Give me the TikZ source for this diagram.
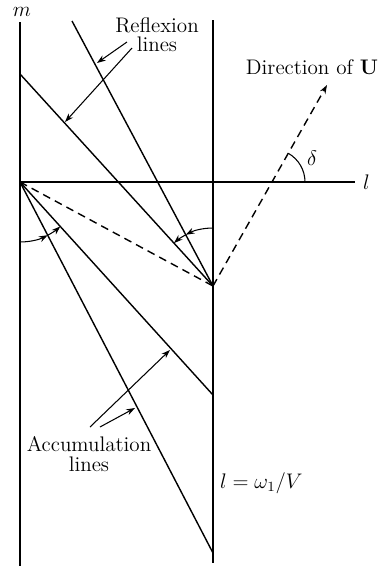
\documentclass[tikz,border=0pt]{standalone}
\usepackage{amsmath,amssymb}
\usepackage{tikz}
\usetikzlibrary{arrows.meta}

\begin{document}
\begin{tikzpicture}[
      x=0.02cm,y=0.02cm,
      >={Stealth[length=5pt,width=3.5pt]},
      edge/.style={line width=0.8pt},
      dashline/.style={line width=0.8pt,dash pattern=on 4.5pt off 3pt},
      pointer/.style={->,line width=0.6pt},
      anglearc/.style={->,line width=0.6pt},
      lbl/.style={font=\fontsize{12}{13}\selectfont,align=center,inner sep=1pt}
    ]
    \useasboundingbox (0,0) rectangle (379,566);
    % frame of the strip
    \coordinate (O) at (20,384);
    \coordinate (P) at (213,280);
    \coordinate (lefttop) at (20,544);
    \coordinate (leftbot) at (20,0);
    \coordinate (righttop) at (213,546);
    \coordinate (rightbot) at (213,3);
    \coordinate (lend) at (355,384);
    \draw[edge] (lefttop) -- (leftbot);
    \draw[edge] (righttop) -- (rightbot);
    \draw[edge] (O) -- (lend);
    \node[lbl] (mlabel) at (22,554) {$m$};
    \node[lbl,right=0pt] (llabel) at (361,384) {$l$};
    % reflexion and accumulation lines
    \coordinate (refla) at (20,492);
    \coordinate (reflb) at (72,545);
    \coordinate (accua) at (213,171);
    \coordinate (accub) at (213,13);
    \draw[edge] (refla) -- (P);
    \draw[edge] (reflb) -- (P);
    \draw[edge] (O) -- (accua);
    \draw[edge] (O) -- (accub);
    % dashed lines
    \coordinate (utip) at (327,481);
    \coordinate (cross) at (272,384);
    \draw[dashline] (O) -- (P);
    \draw[dashline,->] (P) -- (utip);
    \draw[line width=0.6pt] (cross) ++(0:33) arc[start angle=0,end angle=60.4,radius=0.66cm];
    \node[lbl] (delta) at (312,408) {$\delta$};
    \node[lbl] (dirU) at (312,499) {Direction of $\mathbf{U}$};
    % labels with pointers
    \node[lbl] (refl) at (157,531) {Reflexion\\[-2pt]lines};
    \coordinate (reflpa) at (97,503);
    \coordinate (reflpb) at (65,444);
    \draw[pointer] (127,524) -- (reflpa);
    \draw[pointer] (132,518) -- (reflpb);
    \node[lbl] (accu) at (89,112) {Accumulation\\[-2pt]lines};
    \coordinate (accupa) at (170,216);
    \coordinate (accupb) at (135,158);
    \draw[pointer] (90,139) -- (accupa);
    \draw[pointer] (100,139) -- (accupb);
    \node[lbl,anchor=west] (wall) at (218,83) {$l=\omega_1/V$};
    % angle arcs
    \draw[anglearc] (O) ++(-90:60) arc[start angle=-90,end angle=-62.5,radius=1.2cm];
    \draw[anglearc] (O) ++(-62.5:60) arc[start angle=-62.5,end angle=-47.8,radius=1.2cm];
    \draw[anglearc] (P) ++(90:58) arc[start angle=90,end angle=118,radius=1.16cm];
    \draw[anglearc] (P) ++(118:58) arc[start angle=118,end angle=132.3,radius=1.16cm];
  \end{tikzpicture}
\end{document}
